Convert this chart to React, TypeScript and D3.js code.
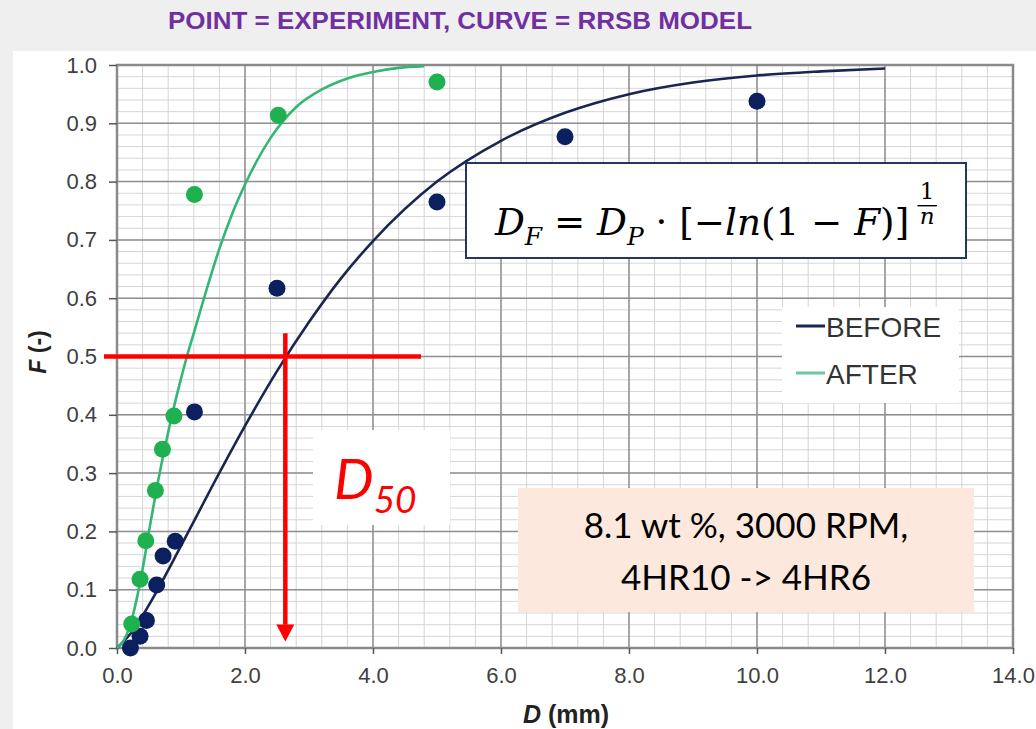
import React, { useEffect, useRef } from 'react';
import * as d3 from 'd3';

const WIDTH = 1036;
const HEIGHT = 729;

// experiment points
const beforeD = [0.21, 0.36, 0.46, 0.62, 0.72, 0.91, 1.21, 2.5, 5.0, 7.0, 10.0];
const beforeF = [0.0, 0.02, 0.047, 0.108, 0.158, 0.183, 0.405, 0.617, 0.765, 0.877, 0.938];
const afterD = [0.23, 0.36, 0.45, 0.6, 0.71, 0.89, 1.21, 2.52, 5.0];
const afterF = [0.041, 0.118, 0.184, 0.27, 0.341, 0.398, 0.778, 0.914, 0.971];

// RRSB model curves
const beforeCurveD = [0, 0.25, 0.5, 1.0, 1.5, 2.0, 2.5, 3.0, 3.5, 4.0, 5.0, 6.0, 7.0, 8.0, 9.0, 10.0, 11.0, 12.0];
const beforeCurveF = [0, 0.03, 0.074, 0.175, 0.28, 0.381, 0.475, 0.559, 0.634, 0.698, 0.8, 0.87, 0.918, 0.95, 0.97, 0.982, 0.989, 0.994];
const afterCurveD = [0, 0.1, 0.2, 0.3, 0.4, 0.5, 0.6, 0.7, 0.8, 0.9, 1.0, 1.1, 1.2, 1.4, 1.6, 1.8, 2.0, 2.4, 2.8, 3.2, 3.6, 4.0, 4.4, 4.8];
const afterCurveF = [0, 0.012, 0.037, 0.08, 0.135, 0.2, 0.262, 0.318, 0.37, 0.418, 0.462, 0.503, 0.54, 0.615, 0.685, 0.745, 0.795, 0.875, 0.928, 0.958, 0.977, 0.988, 0.995, 0.998];

const xTicks = [0, 2, 4, 6, 8, 10, 12, 14];
const yTicks = [0, 0.1, 0.2, 0.3, 0.4, 0.5, 0.6, 0.7, 0.8, 0.9, 1.0];
const seriesNames = ['BEFORE', 'AFTER'];
const seriesColors = ['#1c2550', '#34b676'];
const pointColors = ['#0c1f5e', '#1fb14f'];
const d50 = 2.63;
const title = 'POINT = EXPERIMENT, CURVE = RRSB MODEL';
const boxLines = ['8.1 wt %, 3000 RPM,', '4HR10 -> 4HR6'];

const App = () => {
  const ref = useRef<SVGSVGElement>(null);

  useEffect(() => {
    if (!ref.current) return;
    const svg = d3.select(ref.current);
    svg.selectAll('*').remove();

    const x = d3.scaleLinear().domain([0, 14]).range([117, 1013]);
    const y = d3.scaleLinear().domain([0, 1]).range([648, 65]);

    // slide background + white chart picture
    svg.append('rect').attr('width', WIDTH).attr('height', HEIGHT).attr('fill', '#efefef');
    svg.append('rect').attr('x', 13).attr('y', 51).attr('width', WIDTH - 13).attr('height', HEIGHT - 51).attr('fill', '#fff');

    svg
      .append('text')
      .text(title)
      .attr('x', 168)
      .attr('y', 29)
      .attr('textLength', 584)
      .attr('lengthAdjust', 'spacingAndGlyphs')
      .style('font', "bold 24px 'Liberation Sans Narrow', 'Liberation Sans', sans-serif")
      .style('fill', '#7030a0');

    const grid = svg.append('g');
    // minor grid
    grid
      .selectAll('.vminor')
      .data(d3.range(0, 36).map((i) => i * 0.4))
      .enter()
      .append('line')
      .attr('x1', (d) => x(d))
      .attr('x2', (d) => x(d))
      .attr('y1', y(1))
      .attr('y2', y(0))
      .attr('stroke', '#d6d6d6')
      .attr('stroke-width', 1);
    grid
      .selectAll('.hminor')
      .data(d3.range(0, 51).map((i) => i * 0.02))
      .enter()
      .append('line')
      .attr('x1', x(0))
      .attr('x2', x(14))
      .attr('y1', (d) => y(d))
      .attr('y2', (d) => y(d))
      .attr('stroke', '#d6d6d6')
      .attr('stroke-width', 1);
    // major grid
    grid
      .selectAll('.vmajor')
      .data(xTicks)
      .enter()
      .append('line')
      .attr('x1', (d) => x(d))
      .attr('x2', (d) => x(d))
      .attr('y1', y(1))
      .attr('y2', y(0))
      .attr('stroke', '#8f8f8f')
      .attr('stroke-width', 1.5);
    grid
      .selectAll('.hmajor')
      .data(yTicks)
      .enter()
      .append('line')
      .attr('x1', x(0))
      .attr('x2', x(14))
      .attr('y1', (d) => y(d))
      .attr('y2', (d) => y(d))
      .attr('stroke', '#8f8f8f')
      .attr('stroke-width', 1.5);

    // frame
    svg
      .append('rect')
      .attr('x', x(0))
      .attr('y', y(1))
      .attr('width', x(14) - x(0))
      .attr('height', y(0) - y(1))
      .attr('fill', 'none')
      .attr('stroke', '#8a8a8a')
      .attr('stroke-width', 2.5);

    // axes
    const yAxis = svg
      .append('g')
      .attr('transform', `translate(${x(0)},0)`)
      .call(d3.axisLeft(y).tickValues(yTicks).tickFormat(d3.format('.1f')).tickSize(8).tickPadding(12));
    yAxis.select('.domain').remove();
    yAxis.selectAll('.tick line').attr('stroke', '#555').attr('stroke-width', 1.5);
    yAxis
      .selectAll('.tick text')
      .style('font', "22px 'Liberation Sans', Arial, sans-serif")
      .style('fill', '#404040');

    const xAxis = svg
      .append('g')
      .attr('transform', `translate(0,${y(0)})`)
      .call(d3.axisBottom(x).tickValues(xTicks).tickFormat(d3.format('.1f')).tickSize(6).tickPadding(13));
    xAxis.select('.domain').remove();
    xAxis.selectAll('.tick line').attr('stroke', '#555').attr('stroke-width', 1.5);
    xAxis
      .selectAll('.tick text')
      .style('font', "22px 'Liberation Sans', Arial, sans-serif")
      .style('fill', '#404040');

    // axis titles
    const xt = svg
      .append('text')
      .attr('x', 566)
      .attr('y', 723)
      .attr('text-anchor', 'middle')
      .style('font', "bold 25px 'Liberation Sans', Arial, sans-serif")
      .style('fill', '#222');
    xt.append('tspan').attr('font-style', 'italic').text('D');
    xt.append('tspan').text(' (mm)');

    const yt = svg
      .append('text')
      .attr('transform', 'translate(46,352) rotate(-90)')
      .attr('text-anchor', 'middle')
      .style('font', "bold 23px 'Liberation Sans', Arial, sans-serif")
      .style('fill', '#222');
    yt.append('tspan').attr('font-style', 'italic').text('F');
    yt.append('tspan').text(' (-)');

    // model curves
    const line = d3
      .line<[number, number]>()
      .x((d) => x(d[0]))
      .y((d) => y(d[1]))
      .curve(d3.curveMonotoneX);
    const curves = [
      beforeCurveD.map((d, i) => [d, beforeCurveF[i]] as [number, number]),
      afterCurveD.map((d, i) => [d, afterCurveF[i]] as [number, number]),
    ];
    curves.forEach((c, i) => {
      svg
        .append('path')
        .datum(c)
        .attr('d', line)
        .attr('fill', 'none')
        .attr('stroke', seriesColors[i])
        .attr('stroke-width', 2.6);
    });

    // experiment points
    const points = [
      beforeD.map((d, i) => [d, beforeF[i]]),
      afterD.map((d, i) => [d, afterF[i]]),
    ];
    points.forEach((p, i) => {
      svg
        .append('g')
        .selectAll('circle')
        .data(p)
        .enter()
        .append('circle')
        .attr('cx', (d) => x(d[0]))
        .attr('cy', (d) => y(d[1]))
        .attr('r', 8.5)
        .attr('fill', pointColors[i]);
    });

    // D50 construction
    svg
      .append('line')
      .attr('x1', 104)
      .attr('x2', x(4.75))
      .attr('y1', y(0.5))
      .attr('y2', y(0.5))
      .attr('stroke', '#ff0000')
      .attr('stroke-width', 4.5);
    svg
      .append('line')
      .attr('x1', x(d50))
      .attr('x2', x(d50))
      .attr('y1', y(0.54))
      .attr('y2', y(0.04))
      .attr('stroke', '#ff0000')
      .attr('stroke-width', 4.5);
    const tipY = y(0.011);
    svg
      .append('path')
      .attr('d', `M${x(d50) - 9},${tipY - 17}L${x(d50) + 9},${tipY - 17}L${x(d50)},${tipY}Z`)
      .attr('fill', '#ff0000');

    svg.append('rect').attr('x', 313).attr('y', 430).attr('width', 137).attr('height', 95).attr('fill', '#fff');
    const dl = svg
      .append('text')
      .attr('x', 334)
      .attr('y', 499)
      .style('font', "italic 56px Lato, 'Open Sans', sans-serif")
      .style('fill', '#ff0000');
    dl.append('tspan').text('D');
    dl.append('tspan').attr('dy', 14).attr('font-size', 37).text('50');

    // legend
    svg.append('rect').attr('x', 782).attr('y', 307).attr('width', 177).attr('height', 96).attr('fill', '#fff');
    seriesNames.forEach((name, i) => {
      const ly = 337 + i * 47;
      svg
        .append('line')
        .attr('x1', 796)
        .attr('x2', 825)
        .attr('y1', ly - 11)
        .attr('y2', ly - 11)
        .attr('stroke', i === 0 ? '#1c2550' : '#6cc79c')
        .attr('stroke-width', 3);
      svg
        .append('text')
        .attr('x', 826)
        .attr('y', ly)
        .text(name)
        .style('font', "28px 'Liberation Sans', Arial, sans-serif")
        .style('fill', '#333');
    });

    // RRSB equation box
    svg
      .append('rect')
      .attr('x', 466)
      .attr('y', 163)
      .attr('width', 500)
      .attr('height', 95)
      .attr('fill', '#fff')
      .attr('stroke', '#1f3864')
      .attr('stroke-width', 2);
    const eqG = svg.append('g');
    const eq = eqG.append('text').attr('x', 0).attr('y', 0).style('font', "42px 'DejaVu Serif', serif").style('fill', '#000');
    const parts = [
      { t: 'D', it: true },
      { t: 'F', it: true, sub: true },
      { t: ' = ', it: false },
      { t: 'D', it: true },
      { t: 'P', it: true, sub: true },
      { t: ' · [−', it: false },
      { t: 'ln', it: true },
      { t: '(1 − ', it: false },
      { t: 'F', it: true },
      { t: ')]', it: false },
    ];
    let shifted = false;
    parts.forEach((p) => {
      const ts = eq.append('tspan').text(p.t).attr('font-style', p.it ? 'italic' : 'normal');
      if (p.sub) {
        ts.attr('dy', 11).attr('font-size', 28);
        shifted = true;
      } else if (shifted) {
        ts.attr('dy', -11);
        shifted = false;
      }
    });
    const eb = (eq.node() as SVGTextElement).getBBox();
    const fx = eb.x + eb.width + 20;
    eqG
      .append('text')
      .attr('x', fx)
      .attr('y', -40)
      .attr('text-anchor', 'middle')
      .text('1')
      .style('font', "26px 'DejaVu Serif', serif");
    eqG
      .append('line')
      .attr('x1', fx - 11)
      .attr('x2', fx + 11)
      .attr('y1', -33)
      .attr('y2', -33)
      .attr('stroke', '#000')
      .attr('stroke-width', 1.6);
    eqG
      .append('text')
      .attr('x', fx)
      .attr('y', -12)
      .attr('text-anchor', 'middle')
      .text('n')
      .style('font', "italic 26px 'DejaVu Serif', serif");
    const gb = (eqG.node() as SVGGElement).getBBox();
    const s = 443 / gb.width;
    eqG.attr('transform', `translate(${494 - gb.x * s},235) scale(${s})`);

    // condition box
    svg.append('rect').attr('x', 518).attr('y', 488).attr('width', 456).attr('height', 124).attr('fill', '#fce8dc');
    boxLines.forEach((t, i) => {
      svg
        .append('text')
        .attr('x', 746)
        .attr('y', 538 + i * 52)
        .attr('text-anchor', 'middle')
        .text(t)
        .style('font', "35px Lato, 'Open Sans', sans-serif")
        .style('fill', '#000');
    });
  }, []);

  return <svg ref={ref} width={WIDTH} height={HEIGHT} style={{ position: 'absolute', left: 0, top: 0 }} />;
};

export default App;
